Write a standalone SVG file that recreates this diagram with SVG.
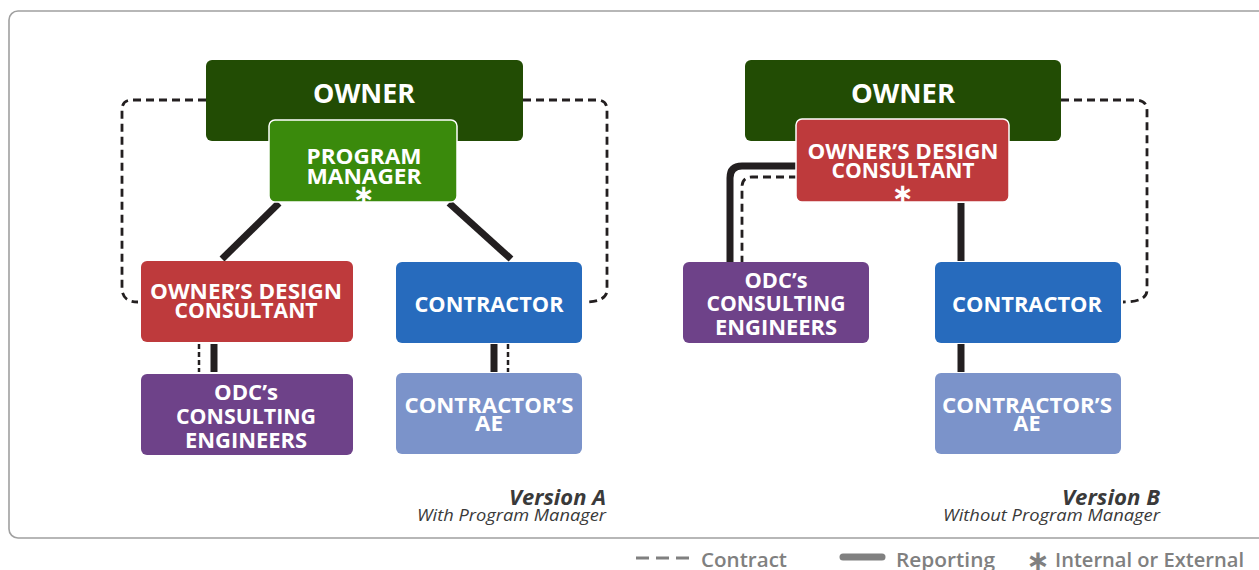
<svg xmlns="http://www.w3.org/2000/svg" width="1259" height="570" viewBox="0 0 1259 570">
<style>
.lbl{font-family:"Open Sans","Noto Sans","Liberation Sans",sans-serif;font-weight:700;fill:#fff;text-anchor:middle}
.big{font-size:27px}
.med{font-size:22px}
.ast{font-family:"DejaVu Sans","Liberation Sans",sans-serif;font-size:26px;font-weight:700;fill:#fff;text-anchor:middle}
.rep{fill:none;stroke:#231F20;stroke-width:7}
.con{fill:none;stroke:#231F20;stroke-width:2.8;stroke-dasharray:8 5}
.con2{fill:none;stroke:#231F20;stroke-width:2.5;stroke-dasharray:5 3}
.ver{font-family:"Open Sans","Noto Sans","Liberation Sans",sans-serif;font-style:italic;fill:#3a3a3a;text-anchor:end}
.leg{font-family:"Open Sans","Noto Sans","Liberation Sans",sans-serif;font-weight:600;font-size:20px;fill:#808080}
</style>
<rect x="0" y="0" width="1259" height="570" fill="#fff"/>
<rect id="frame" x="9" y="11" width="1262" height="527" rx="9" fill="#fff" stroke="#a0a0a0" stroke-width="1.6"/>

<g id="connectors">
  <!-- Version A -->
  <path class="con" d="M206,100 H132 Q122,100 122,110 V288 Q122,302 138,302"/>
  <path class="con" d="M523,100 H597 Q607,100 607,110 V290 Q607,302 584,302"/>
  <line class="rep" x1="279" y1="203" x2="222" y2="259"/>
  <line class="rep" x1="449" y1="203" x2="511" y2="259"/>
  <line class="rep" x1="214" y1="344" x2="214" y2="372"/>
  <line class="con2" x1="199" y1="344" x2="199" y2="372"/>
  <line class="rep" x1="494" y1="344" x2="494" y2="372"/>
  <line class="con2" x1="508" y1="344" x2="508" y2="372"/>
  <!-- Version B -->
  <path class="con" d="M1061,100 H1136 Q1147,100 1147,111 V290 Q1147,302 1123,302"/>
  <path class="rep" d="M797,166 H742 Q730,166 730,178 V263"/>
  <path class="con" d="M797,177 H752 Q742,177 742,187 V263"/>
  <line class="rep" x1="961" y1="203" x2="961" y2="261"/>
  <line class="rep" x1="961" y1="344" x2="961" y2="372"/>
</g>

<!-- Version A nodes -->
<g id="ownerA">
  <rect x="206" y="60" width="317" height="81" rx="6" fill="#224C04"/>
  <text class="lbl big" x="364" y="103" textLength="102" lengthAdjust="spacingAndGlyphs">OWNER</text>
</g>
<g id="pmA">
  <rect x="269" y="120" width="188" height="82" rx="6" fill="#3A8A0C" stroke="#fff" stroke-width="1.5"/>
  <text class="lbl med" x="364" y="164" textLength="115" lengthAdjust="spacingAndGlyphs">PROGRAM</text>
  <text class="lbl med" x="364" y="184" textLength="115" lengthAdjust="spacingAndGlyphs">MANAGER</text>
  <text class="ast" x="364" y="203">∗</text>
</g>
<g id="odcA">
  <rect x="141" y="261" width="212" height="81" rx="6" fill="#BE3A3C"/>
  <text class="lbl med" x="246" y="299" textLength="192" lengthAdjust="spacingAndGlyphs">OWNER’S DESIGN</text>
  <text class="lbl med" x="246" y="318" textLength="143" lengthAdjust="spacingAndGlyphs">CONSULTANT</text>
</g>
<g id="contractorA">
  <rect x="396" y="262" width="186" height="81" rx="6" fill="#276BBD"/>
  <text class="lbl med" x="489" y="312" textLength="149" lengthAdjust="spacingAndGlyphs">CONTRACTOR</text>
</g>
<g id="odcCeA">
  <rect x="141" y="374" width="212" height="81" rx="6" fill="#6E4289"/>
  <text class="lbl med" x="246" y="400" textLength="64" lengthAdjust="spacingAndGlyphs">ODC’s</text>
  <text class="lbl med" x="246" y="424" textLength="140" lengthAdjust="spacingAndGlyphs">CONSULTING</text>
  <text class="lbl med" x="246" y="448" textLength="122" lengthAdjust="spacingAndGlyphs">ENGINEERS</text>
</g>
<g id="contractorAeA">
  <rect x="396" y="373" width="186" height="81" rx="6" fill="#7B93CA"/>
  <text class="lbl med" x="489" y="413" textLength="169" lengthAdjust="spacingAndGlyphs">CONTRACTOR’S</text>
  <text class="lbl med" x="489" y="431" textLength="28" lengthAdjust="spacingAndGlyphs">AE</text>
</g>
<g id="versionA">
  <text class="ver" x="606" y="505" font-size="22" font-weight="700" textLength="97" lengthAdjust="spacingAndGlyphs">Version A</text>
  <text class="ver" x="606" y="521" font-size="16" textLength="189" lengthAdjust="spacingAndGlyphs">With Program Manager</text>
</g>

<!-- Version B nodes -->
<g id="ownerB">
  <rect x="745" y="60" width="316" height="81" rx="6" fill="#224C04"/>
  <text class="lbl big" x="903" y="103" textLength="104" lengthAdjust="spacingAndGlyphs">OWNER</text>
</g>
<g id="odcB">
  <rect x="796" y="119" width="213" height="83" rx="6" fill="#BE3A3C" stroke="#fff" stroke-width="1.5"/>
  <text class="lbl med" x="903" y="159" textLength="191" lengthAdjust="spacingAndGlyphs">OWNER’S DESIGN</text>
  <text class="lbl med" x="903" y="178" textLength="143" lengthAdjust="spacingAndGlyphs">CONSULTANT</text>
  <text class="ast" x="903" y="202">∗</text>
</g>
<g id="odcCeB">
  <rect x="683" y="262" width="186" height="81" rx="6" fill="#6E4289"/>
  <text class="lbl med" x="776" y="288" textLength="63" lengthAdjust="spacingAndGlyphs">ODC’s</text>
  <text class="lbl med" x="776" y="311" textLength="139" lengthAdjust="spacingAndGlyphs">CONSULTING</text>
  <text class="lbl med" x="776" y="335" textLength="122" lengthAdjust="spacingAndGlyphs">ENGINEERS</text>
</g>
<g id="contractorB">
  <rect x="935" y="262" width="186" height="81" rx="6" fill="#276BBD"/>
  <text class="lbl med" x="1027" y="312" textLength="150" lengthAdjust="spacingAndGlyphs">CONTRACTOR</text>
</g>
<g id="contractorAeB">
  <rect x="935" y="373" width="186" height="81" rx="6" fill="#7B93CA"/>
  <text class="lbl med" x="1027" y="413" textLength="170" lengthAdjust="spacingAndGlyphs">CONTRACTOR’S</text>
  <text class="lbl med" x="1027" y="431" textLength="27" lengthAdjust="spacingAndGlyphs">AE</text>
</g>
<g id="versionB">
  <text class="ver" x="1160" y="505" font-size="22" font-weight="700" textLength="98" lengthAdjust="spacingAndGlyphs">Version B</text>
  <text class="ver" x="1160" y="521" font-size="16" textLength="217" lengthAdjust="spacingAndGlyphs">Without Program Manager</text>
</g>

<g id="legend">
  <line x1="636" y1="558" x2="690" y2="558" stroke="#808080" stroke-width="2.8" stroke-dasharray="13 7"/>
  <text class="leg" x="701" y="567" textLength="86" lengthAdjust="spacingAndGlyphs">Contract</text>
  <line x1="843" y1="557" x2="882" y2="557" stroke="#808080" stroke-width="7" stroke-linecap="round"/>
  <text class="leg" x="896" y="567" textLength="99" lengthAdjust="spacingAndGlyphs">Reporting</text>
  <text x="1038" y="570" font-family="DejaVu Sans,sans-serif" font-size="28" font-weight="700" fill="#808080" text-anchor="middle">∗</text>
  <text class="leg" x="1055" y="567" textLength="189" lengthAdjust="spacingAndGlyphs">Internal or External</text>
</g>
</svg>
